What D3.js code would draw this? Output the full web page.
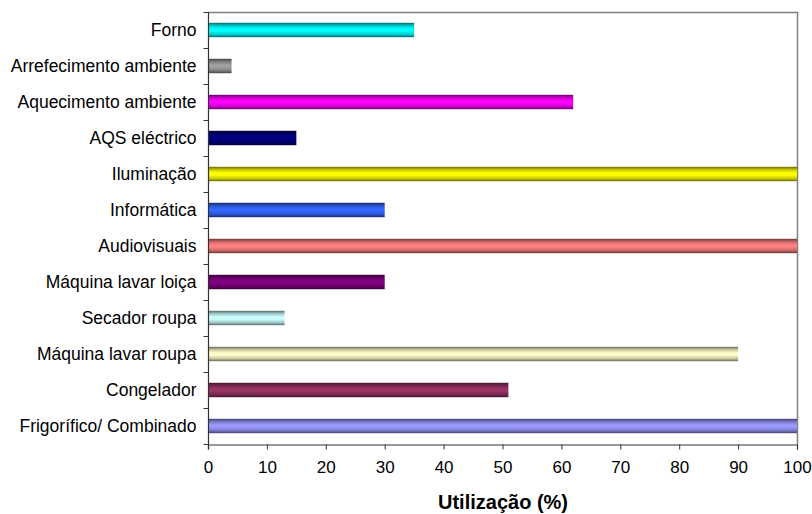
<!DOCTYPE html>
<html>
<head>
<meta charset="utf-8">
<script src="https://cdn.jsdelivr.net/npm/d3@7/dist/d3.min.js"></script>
<style>
  html, body { margin: 0; padding: 0; background: #fff; }
  svg { display: block; font-family: "Liberation Sans", Arial, sans-serif; }
</style>
</head>
<body>
<svg id="chart" width="812" height="514"></svg>
<script>
// Equipment categories, top to bottom
const categories = [
  "Forno",
  "Arrefecimento ambiente",
  "Aquecimento ambiente",
  "AQS eléctrico",
  "Iluminação",
  "Informática",
  "Audiovisuais",
  "Máquina lavar loiça",
  "Secador roupa",
  "Máquina lavar roupa",
  "Congelador",
  "Frigorífico/ Combinado"
];
// Usage share (%)
const values = [35, 4, 62, 15, 100, 30, 100, 30, 13, 90, 51, 100];
// Fill colour of each bar
const colors = [
  "#00ffff", "#a0a0a0", "#ff00ff", "#000080", "#ffff00", "#3366ff",
  "#ff8080", "#800080", "#ccffff", "#ffffcc", "#993366", "#9999ff"
];
const xTicks = [0, 10, 20, 30, 40, 50, 60, 70, 80, 90, 100];
const xTitle = "Utilização (%)";

const svg = d3.select("#chart");
const plot = { left: 208, right: 797, top: 12, bottom: 444 };

const x = d3.scaleLinear().domain([0, 100]).range([plot.left, plot.right]);
const y = d3.scaleBand().domain(categories).range([plot.top, plot.bottom]).paddingInner(0.6).paddingOuter(0.3);

// Cylinder-style shading: dark edges, bright centre
const defs = svg.append("defs");
colors.forEach((c, i) => {
  const base = d3.rgb(c);
  const edge = d3.rgb(base.r * 0.42, base.g * 0.42, base.b * 0.42);
  const mid = d3.rgb(base.r * 0.78, base.g * 0.78, base.b * 0.78);
  const g = defs.append("linearGradient")
    .attr("id", "grad" + i).attr("x1", 0).attr("y1", 0).attr("x2", 0).attr("y2", 1);
  g.append("stop").attr("offset", "0%").attr("stop-color", edge);
  g.append("stop").attr("offset", "20%").attr("stop-color", mid);
  g.append("stop").attr("offset", "42%").attr("stop-color", base);
  g.append("stop").attr("offset", "58%").attr("stop-color", base);
  g.append("stop").attr("offset", "82%").attr("stop-color", mid);
  g.append("stop").attr("offset", "100%").attr("stop-color", edge);
});

// Plot-area frame (top and right)
svg.append("path")
  .attr("d", `M${plot.left},${plot.top + 0.5}H${plot.right + 0.5}V${plot.bottom}`)
  .attr("fill", "none").attr("stroke", "#808080").attr("stroke-width", 1.5);

// Bars
svg.append("g").selectAll("rect")
  .data(categories)
  .join("rect")
  .attr("x", x(0))
  .attr("y", d => y(d))
  .attr("width", (d, i) => x(values[i]) - x(0))
  .attr("height", y.bandwidth())
  .attr("fill", (d, i) => `url(#grad${i})`);

// Category axis with ticks between bands
const yAxis = svg.append("g").attr("transform", `translate(${plot.left + 0.5},0)`);
yAxis.append("line").attr("y1", plot.top).attr("y2", plot.bottom + 5)
  .attr("stroke", "#333").attr("stroke-width", 1.2);
const bounds = d3.range(categories.length + 1).map(i => plot.top + i * (plot.bottom - plot.top) / categories.length);
yAxis.selectAll(".tk").data(bounds).join("line")
  .attr("x1", -5).attr("x2", 0)
  .attr("y1", d => Math.round(d) + 0.5).attr("y2", d => Math.round(d) + 0.5)
  .attr("stroke", "#333");
yAxis.selectAll("text").data(categories).join("text")
  .attr("x", -12)
  .attr("y", d => y(d) + y.bandwidth() / 2)
  .attr("dy", "0.35em")
  .attr("text-anchor", "end")
  .attr("font-size", 17.5)
  .attr("fill", "#000")
  .text(d => d);

// Value axis
const xAxis = svg.append("g").attr("transform", `translate(0,${plot.bottom + 0.5})`)
  .call(d3.axisBottom(x).tickValues(xTicks).tickSize(5).tickPadding(11).tickFormat(d3.format("d")));
xAxis.select(".domain").attr("stroke", "#333").attr("stroke-width", 1.2);
xAxis.selectAll(".tick line").attr("stroke", "#333");
xAxis.selectAll("text").attr("font-size", 17).attr("fill", "#000")
  .attr("font-family", "'Liberation Sans', Arial, sans-serif");

svg.append("text")
  .attr("x", 503)
  .attr("y", 502)
  .attr("dy", "0.35em")
  .attr("text-anchor", "middle")
  .attr("font-size", 20)
  .attr("font-weight", "bold")
  .text(xTitle);
</script>
</body>
</html>
